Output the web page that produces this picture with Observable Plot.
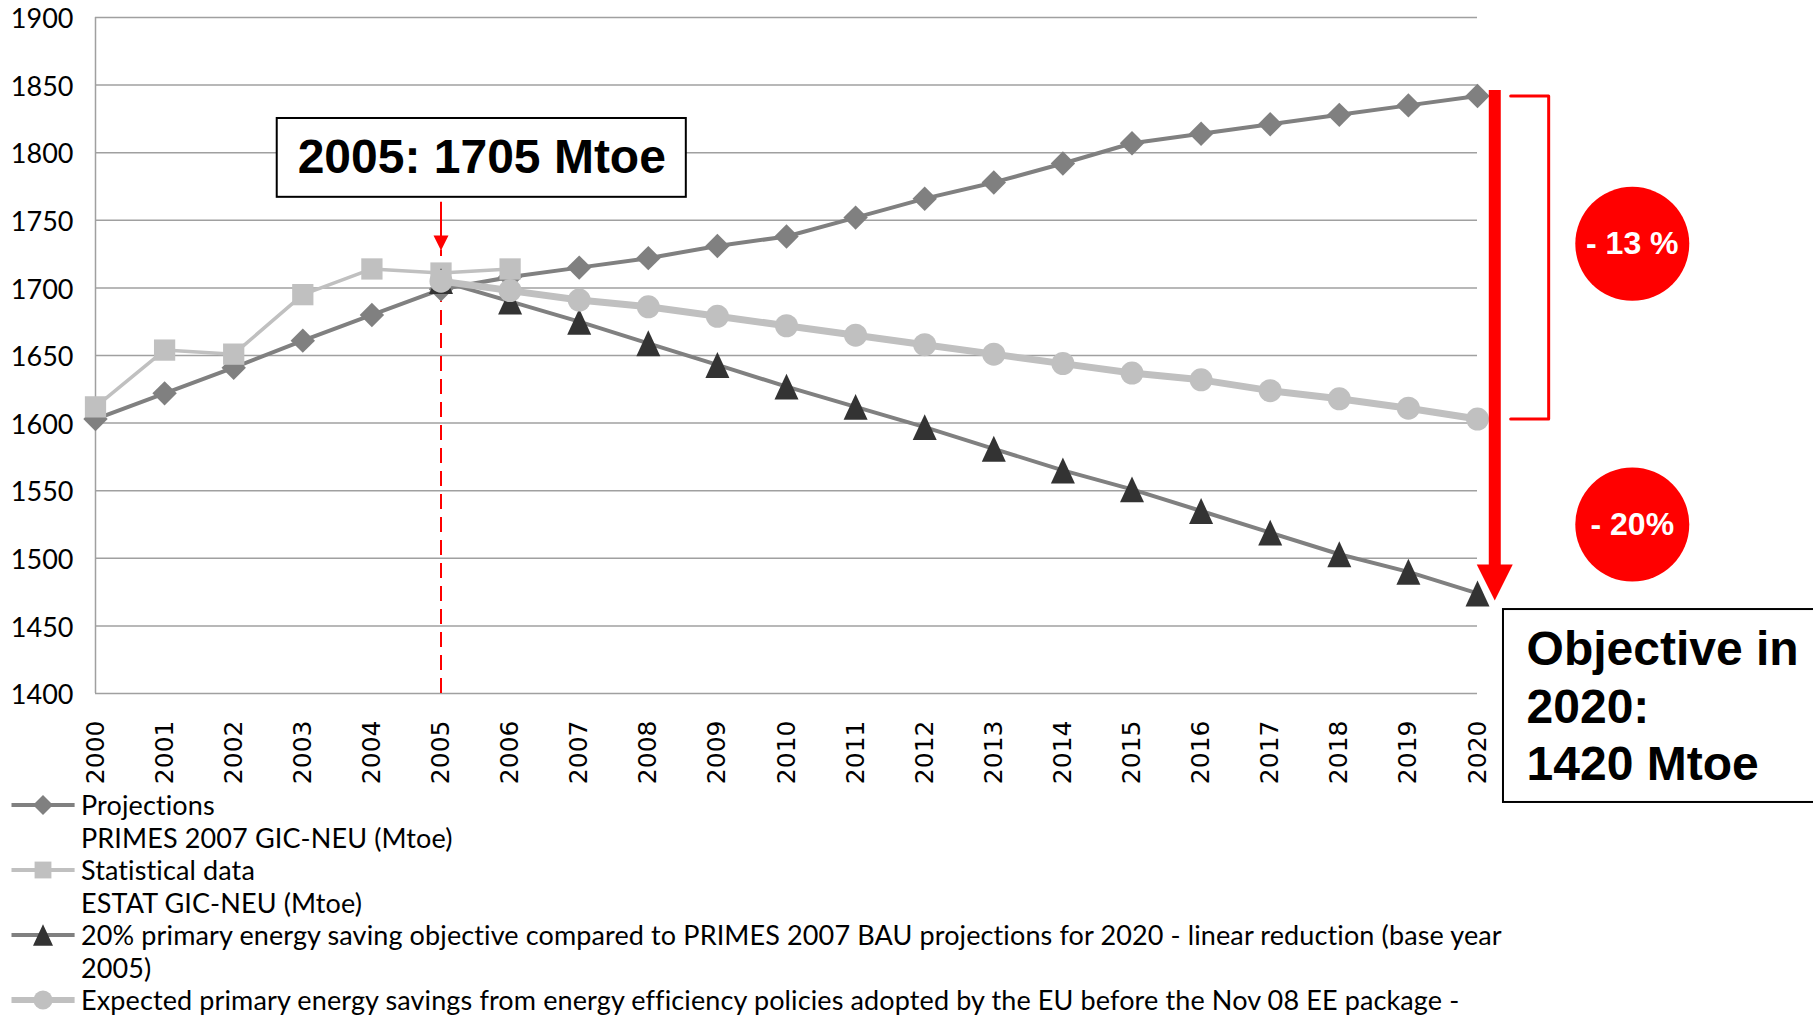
<!DOCTYPE html>
<html>
<head>
<meta charset="utf-8">
<script src="https://cdn.jsdelivr.net/npm/d3@7"></script>
<script src="https://cdn.jsdelivr.net/npm/@observablehq/plot@0.6"></script>
<style>
  html, body { margin:0; padding:0; background:#fff; width:1813px; height:1015px; overflow:hidden; }
  #chart svg { display:block; }
  #legend { position:relative; margin-top:-18px; font-family:Lato,"Open Sans",sans-serif; font-size:27px; letter-spacing:0.12px; color:#000; }
  .entry { position:relative; height:65px; }
  .entry svg { position:absolute; left:0; top:3px; }
  .entry .txt { position:absolute; left:81px; top:0; }
  .entry .ln { height:32.5px; line-height:32.5px; white-space:nowrap; }
  .entry .ln1 { margin-top:2.1px; }
</style>
</head>
<body>
<div id="chart"></div>
<div id="legend"></div>
<script>
// ---------- data ----------
const years = [2000,2001,2002,2003,2004,2005,2006,2007,2008,2009,2010,2011,2012,2013,2014,2015,2016,2017,2018,2019,2020];
const projections = [1603,1622,1641,1661,1680,1699,1708,1715,1722,1731,1738,1752,1766,1778,1792,1807,1814,1821,1828,1835,1842];
const statYears = [2000,2001,2002,2003,2004,2005,2006];
const statistical = [1612,1654,1651,1695,1714,1711,1714];
const targetYears = [2005,2006,2007,2008,2009,2010,2011,2012,2013,2014,2015,2016,2017,2018,2019,2020];
const objective = [1705,1690,1675,1659,1643,1627,1612,1597,1581,1565,1551,1535,1519,1503,1490,1474];
const expected = [1705,1698,1691,1686,1679,1672,1665,1658,1651,1644,1637,1632,1624,1618,1611,1603];
const yTicks = [1400,1450,1500,1550,1600,1650,1700,1750,1800,1850,1900];

const legendLabels = [
  ["Projections", "PRIMES 2007 GIC-NEU (Mtoe)"],
  ["Statistical data", "ESTAT GIC-NEU (Mtoe)"],
  ["20% primary energy saving objective compared to PRIMES 2007 BAU projections for 2020 - linear reduction (base year", "2005)"],
  ["Expected primary energy savings from energy efficiency policies adopted by the EU before the Nov 08 EE package -"]
];
const refYear = 2005, refValue = 1705, targetValue = 1420;
const badgeLabels = ["- 13 %", "- 20%"];

// ---------- styles ----------
const C_PROJ = "#808080", C_STAT = "#c0c0c0", C_OBJ_LINE = "#808080", C_OBJ_MARK = "#333333", C_EXP = "#c0c0c0";
const RED = "#ff0000", GRID = "#a0a0a0";
const FONT_TICK = 'Lato,"Open Sans",sans-serif';
const FONT_BOLD = '"Liberation Sans",Arial,Helvetica,sans-serif';

const tallTriangle = { draw(ctx, size) { const r = Math.sqrt(size/Math.PI); const h = r*1.08; ctx.moveTo(0,-h); ctx.lineTo(r,h); ctx.lineTo(-r,h); ctx.closePath(); } };
const arrowHead = { draw(ctx, size) { const r = Math.sqrt(size/Math.PI); ctx.moveTo(0,0); ctx.lineTo(r,-2*r); ctx.lineTo(-r,-2*r); ctx.closePath(); } };

const projData = years.map((x,i)=>({x, y: projections[i]}));
const statData = statYears.map((x,i)=>({x, y: statistical[i]}));
const objData = targetYears.map((x,i)=>({x, y: objective[i]}));
const expData = targetYears.map((x,i)=>({x, y: expected[i]}));

const p2020 = projections[projections.length-1];
const e2020 = expected[expected.length-1];

// annotation anchors (data units)
const bracketPts = [{x:2020.48,y:p2020},{x:2021.03,y:p2020},{x:2021.03,y:e2020},{x:2020.48,y:e2020}];
const badgeData = [{x:2022.24, y:1732.6, t:badgeLabels[0]},{x:2022.24, y:1525, t:badgeLabels[1]}];

const chart = Plot.plot({
  width: 1813, height: 805,
  marginLeft: 95, marginRight: 336, marginTop: 17, marginBottom: 112,
  x: {domain: [2000, 2020]},
  y: {domain: [1400, 1900]},
  style: {background: "#fff", overflow: "visible"},
  marks: [
    Plot.ruleY(yTicks, {stroke: GRID, strokeWidth: 1.5}),
    Plot.ruleX([2000], {y1: 1400, y2: 1900, stroke: GRID, strokeWidth: 1.5}),
    Plot.axisY({ticks: yTicks, tickSize: 0, tickPadding: 22, fontSize: 27, fontFamily: FONT_TICK, dy: 2, label: null, tickFormat: d => String(d)}),
    Plot.axisX({ticks: years, tickSize: 0, tickPadding: 27, tickRotate: -90, fontSize: 25, fontFamily: "DejaVu Sans, sans-serif", label: null, tickFormat: d => String(d)}),

    // dashed reference line and small arrow
    Plot.ruleX([refYear], {y1: 1400, y2: 1728, stroke: RED, strokeWidth: 2, strokeDasharray: "15,8"}),
    Plot.ruleX([refYear], {y1: 1763.4, y2: 1738, stroke: RED, strokeWidth: 2}),
    Plot.dot([refYear], {x: d => d, y: 1727.7, symbol: arrowHead, r: 7.5, fill: RED, stroke: null}),

    // series
    Plot.line(projData, {x: "x", y: "y", stroke: C_PROJ, strokeWidth: 4}),
    Plot.dot(projData, {x: "x", y: "y", symbol: "diamond2", r: 11, fill: C_PROJ, stroke: null}),
    Plot.line(statData, {x: "x", y: "y", stroke: C_STAT, strokeWidth: 3.5}),
    Plot.dot(statData, {x: "x", y: "y", symbol: "square", r: 12, fill: C_STAT, stroke: null}),
    Plot.line(objData, {x: "x", y: "y", stroke: C_OBJ_LINE, strokeWidth: 4}),
    Plot.dot(objData, {x: "x", y: "y", symbol: tallTriangle, r: 12, fill: C_OBJ_MARK, stroke: null}),
    Plot.line(expData, {x: "x", y: "y", stroke: C_EXP, strokeWidth: 7}),
    Plot.dot(expData, {x: "x", y: "y", r: 11.5, fill: C_EXP, stroke: null}),

    // box 2005
    Plot.rect([0], {x1: 2002.63, x2: 2008.55, y1: 1767, y2: 1825.3, fill: "white", stroke: "black", strokeWidth: 2}),
    Plot.text([`${refYear}: ${refValue} Mtoe`], {x: 2005.59, y: 1796, fontSize: 48, fontWeight: "bold", fontFamily: FONT_BOLD, fill: "black"}),

    // big arrow
    Plot.ruleX([2020.25], {y1: 1846, y2: 1492, stroke: RED, strokeWidth: 12}),
    Plot.dot([2020.25], {x: d => d, y: 1468.8, symbol: arrowHead, r: 18, fill: RED, stroke: null}),

    // bracket
    Plot.line(bracketPts, {x: "x", y: "y", stroke: RED, strokeWidth: 3}),

    // badges
    Plot.dot(badgeData, {x: "x", y: "y", r: 57, fill: RED, stroke: null}),
    Plot.text(badgeData, {x: "x", y: "y", text: "t", fill: "white", fontSize: 32, fontWeight: "bold", fontFamily: FONT_BOLD}),

    // objective box
    Plot.rect([0], {x1: 2020.376, x2: 2031, y1: 1319.4, y2: 1462.1, fill: "white", stroke: "black", strokeWidth: 2}),
    Plot.text([`Objective in\n2020:\n${targetValue} Mtoe`], {x: 2020.71, y: 1451.3, textAnchor: "start", lineAnchor: "top", lineHeight: 1.2, fontSize: 48, fontWeight: "bold", fontFamily: FONT_BOLD, fill: "black"})
  ]
});
document.getElementById("chart").appendChild(chart);

// ---------- legend ----------
const legendSeries = [
  {color: C_PROJ, mark: C_PROJ, symbol: d3.symbolDiamond2, size: Math.PI*9*9},
  {color: C_STAT, mark: C_STAT, symbol: d3.symbolSquare, size: Math.PI*9.5*9.5},
  {color: C_OBJ_LINE, mark: C_OBJ_MARK, symbol: tallTriangle, size: Math.PI*10*10},
  {color: C_EXP, mark: C_EXP, symbol: d3.symbolCircle, size: Math.PI*9.5*9.5}
];
const legend = d3.select("#legend");
legendLabels.forEach((lines, i) => {
  const s = legendSeries[i];
  const entry = legend.append("div").attr("class", "entry");
  const sw = entry.append("svg").attr("width", 80).attr("height", 30);
  sw.append("line").attr("x1", 11.5).attr("x2", 74.6).attr("y1", 15).attr("y2", 15)
    .attr("stroke", s.color).attr("stroke-width", i === 3 ? 6 : 4);
  sw.append("path").attr("transform", "translate(43,15)")
    .attr("d", d3.symbol(s.symbol, s.size)()).attr("fill", s.mark);
  const txt = entry.append("div").attr("class", "txt");
  lines.forEach((l, j) => txt.append("div").attr("class", "ln ln" + (j + 1)).text(l));
});
</script>
</body>
</html>
